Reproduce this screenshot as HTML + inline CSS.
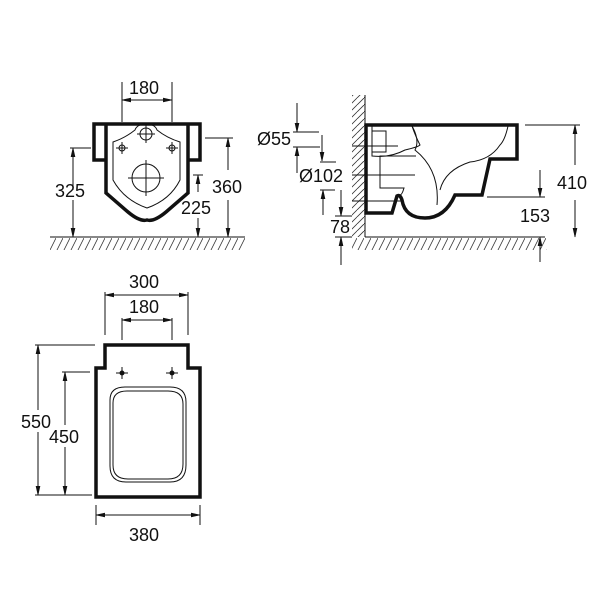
<!DOCTYPE html>
<html><head><style>body{margin:0;background:#fff}svg{display:block}text{font-family:"Liberation Sans",sans-serif;font-size:18px;fill:#111}</style></head>
<body>
<svg width="600" height="600" viewBox="0 0 600 600" xmlns="http://www.w3.org/2000/svg">
<defs>
<marker id="a" markerWidth="10" markerHeight="8" refX="9" refY="4" orient="auto" markerUnits="userSpaceOnUse"><path d="M0,2 L9,4 L0,6 Z" fill="#111" stroke="#111" stroke-width="0.6"/></marker>
<pattern id="h" width="7" height="14" patternUnits="userSpaceOnUse"><path d="M0,14 L7,0" stroke="#333" stroke-width="0.8"/></pattern>
<pattern id="hv" width="14" height="7" patternUnits="userSpaceOnUse"><path d="M0,14 L14,0 M0,7 L7,0" stroke="#333" stroke-width="0.8"/></pattern>
</defs>
<g stroke="#111" fill="none" stroke-width="1">
<!-- front view -->
<rect x="50" y="238" width="195" height="12" fill="url(#h)" stroke="none"/>
<line x1="50" y1="237" x2="245" y2="237"/>
<path d="M106,124 H94 V160 H106 M106,124 H188 M188,124 H200 V160 H188 M106,124 V193 L128,212 Q140,222 147,220 Q154,222 166,212 L188,193 V124" stroke-width="3.5"/>
<path d="M113,142 Q125,138 135,130 Q137,124 146,124 Q155,124 157,130 Q167,138 180,142 L180,180 Q170,200 147,208 Q124,200 113,180 Z" stroke-width="1"/>
<circle cx="146" cy="134" r="6"/><line x1="137" y1="134" x2="155" y2="134"/><line x1="146" y1="125" x2="146" y2="143"/>
<circle cx="146" cy="178" r="14"/><line x1="128" y1="178" x2="164" y2="178"/><line x1="146" y1="160" x2="146" y2="196"/>
<circle cx="122" cy="148" r="3"/><line x1="116" y1="148" x2="128" y2="148"/><line x1="122" y1="142" x2="122" y2="154"/>
<circle cx="172" cy="148" r="3"/><line x1="166" y1="148" x2="178" y2="148"/><line x1="172" y1="142" x2="172" y2="154"/>
<line x1="122" y1="82" x2="122" y2="122"/><line x1="172" y1="82" x2="172" y2="122"/>
<line x1="147" y1="100" x2="122" y2="100" marker-end="url(#a)"/><line x1="147" y1="100" x2="172" y2="100" marker-end="url(#a)"/>
<line x1="70" y1="148" x2="91" y2="148"/>
<line x1="73" y1="190" x2="73" y2="148" marker-end="url(#a)"/><line x1="73" y1="200" x2="73" y2="237" marker-end="url(#a)"/>
<line x1="205" y1="138" x2="233" y2="138"/>
<line x1="228" y1="170" x2="228" y2="138" marker-end="url(#a)"/><line x1="228" y1="200" x2="228" y2="237" marker-end="url(#a)"/>
<line x1="193" y1="175" x2="203" y2="175"/>
<line x1="198" y1="192" x2="198" y2="175" marker-end="url(#a)"/><line x1="198" y1="218" x2="198" y2="237" marker-end="url(#a)"/>
</g>
<text x="129" y="94">180</text>
<text x="55" y="197">325</text>
<text x="212" y="193">360</text>
<text x="181" y="214">225</text>
<g stroke="#111" fill="none" stroke-width="1">
<!-- side view -->
<rect x="352" y="95" width="13" height="142" fill="url(#hv)" stroke="none"/>
<rect x="352" y="238" width="195" height="12" fill="url(#h)" stroke="none"/>
<line x1="365" y1="95" x2="365" y2="237"/>
<line x1="365" y1="237" x2="545" y2="237"/>
<path d="M366,125 H517 V159 H490 L482,195 H455 Q445,218 425,218 Q405,218 402,200 Q400,194 397,196 L392,213 H366 Z" stroke-width="3.5"/>
<path d="M372,126 V156 Q390,158 405,150 Q418,147 420,145 Q415,135 412,126" />
<path d="M372,131 H386 V152 H372 M352,146 H398"/>
<path d="M412,126 Q420,140 415,150 Q440,170 437,205" />
<path d="M508,126 Q505,140 500,145 Q490,160 470,162 Q445,170 440,190"/>
<path d="M416,156 H380 V188 H404 Q402,195 400,195 M352,175 H415 M352,201 H403"/>
<line x1="525" y1="125" x2="580" y2="125"/>
<line x1="575" y1="165" x2="575" y2="125" marker-end="url(#a)"/><line x1="575" y1="200" x2="575" y2="237" marker-end="url(#a)"/>
<line x1="487" y1="197" x2="545" y2="197"/>
<line x1="540" y1="170" x2="540" y2="197" marker-end="url(#a)"/><line x1="540" y1="262" x2="540" y2="237" marker-end="url(#a)"/>
<line x1="293" y1="132" x2="319" y2="132"/><line x1="293" y1="147" x2="320" y2="147"/>
<line x1="297" y1="103" x2="297" y2="132" marker-end="url(#a)"/><line x1="297" y1="173" x2="297" y2="147" marker-end="url(#a)"/>
<line x1="322" y1="135" x2="322" y2="161" marker-end="url(#a)"/>
<line x1="320" y1="162" x2="336" y2="162"/><line x1="320" y1="190" x2="335" y2="190"/>
<line x1="323" y1="215" x2="323" y2="190" marker-end="url(#a)"/>
<line x1="341" y1="190" x2="341" y2="216" marker-end="url(#a)"/>
<line x1="335" y1="216" x2="352" y2="216"/><line x1="335" y1="237" x2="352" y2="237"/>
<line x1="341" y1="265" x2="341" y2="237" marker-end="url(#a)"/>
</g>
<text x="257" y="145">Ø55</text>
<text x="299" y="182">Ø102</text>
<text x="330" y="233">78</text>
<text x="557" y="189">410</text>
<text x="520" y="222">153</text>
<g stroke="#111" fill="none" stroke-width="1">
<!-- top view -->
<path d="M105,345 H188 V368 H200 V497 H96 V368 H105 Z" stroke-width="3.5"/>
<path d="M110,400 Q110,387 125,387 H170 Q186,387 186,402 V465 Q186,482 170,482 H126 Q110,482 110,466 Z"/>
<path d="M113,403 Q113,391 127,391 H168 Q183,391 183,404 V464 Q183,479 168,479 H128 Q113,479 113,465 Z"/>
<line x1="116" y1="373" x2="128" y2="373"/><line x1="122" y1="367" x2="122" y2="379"/><circle cx="122" cy="373" r="2" fill="#111"/>
<line x1="166" y1="373" x2="178" y2="373"/><line x1="172" y1="367" x2="172" y2="379"/><circle cx="172" cy="373" r="2" fill="#111"/>
<line x1="105" y1="292" x2="105" y2="335"/><line x1="188" y1="292" x2="188" y2="335"/>
<line x1="146" y1="295" x2="105" y2="295" marker-end="url(#a)"/><line x1="146" y1="295" x2="188" y2="295" marker-end="url(#a)"/>
<line x1="122" y1="318" x2="122" y2="340"/><line x1="172" y1="318" x2="172" y2="340"/>
<line x1="147" y1="320" x2="122" y2="320" marker-end="url(#a)"/><line x1="147" y1="320" x2="172" y2="320" marker-end="url(#a)"/>
<line x1="35" y1="345" x2="95" y2="345"/>
<line x1="38" y1="410" x2="38" y2="345" marker-end="url(#a)"/><line x1="38" y1="432" x2="38" y2="495" marker-end="url(#a)"/>
<line x1="35" y1="495" x2="92" y2="495"/>
<line x1="62" y1="372" x2="90" y2="372"/>
<line x1="65" y1="425" x2="65" y2="372" marker-end="url(#a)"/><line x1="65" y1="447" x2="65" y2="495" marker-end="url(#a)"/>
<line x1="96" y1="505" x2="96" y2="525"/><line x1="200" y1="505" x2="200" y2="525"/>
<line x1="148" y1="515" x2="96" y2="515" marker-end="url(#a)"/><line x1="148" y1="515" x2="200" y2="515" marker-end="url(#a)"/>
</g>
<text x="129" y="288">300</text>
<text x="129" y="313">180</text>
<text x="21" y="428">550</text>
<text x="49" y="443">450</text>
<text x="129" y="541">380</text>
</svg>
</body></html>
